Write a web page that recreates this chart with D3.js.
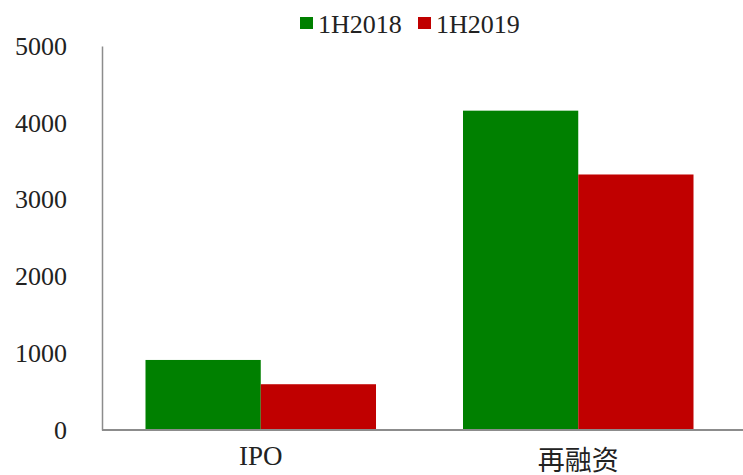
<!DOCTYPE html>
<html>
<head>
<meta charset="utf-8">
<script src="https://cdn.jsdelivr.net/npm/d3@7"></script>
<style>
  body { margin: 0; background: #fff; }
</style>
</head>
<body>
<svg id="chart" width="743" height="475"></svg>
<script>
// data
const categories = ["IPO", "再融资"];
const seriesNames = ["1H2018", "1H2019"];
const values2018 = [912, 4158];
const values2019 = [596, 3327];
const yTicks = [0, 1000, 2000, 3000, 4000, 5000];

const colors = ["#008000", "#c00000"];
const allValues = [values2018, values2019];
const fontFamily = "'Liberation Serif', 'Noto Sans CJK SC', serif";

const width = 743, height = 475;
const plotLeft = 102, plotRight = 737, plotTop = 46, plotBottom = 430;

const svg = d3.select("#chart");

let x = d3.scaleBand().domain(categories).range([plotLeft, plotRight])
    .paddingInner(0.274).paddingOuter(0.137);
let xs = d3.scaleBand().domain(seriesNames).range([0, x.bandwidth()]);
let y = d3.scaleLinear().domain([0, 5000]).range([plotBottom, plotTop]);

// bars
let groups = svg.selectAll(".cat")
    .data(categories)
    .enter().append("g")
    .attr("class", "cat")
    .attr("transform", d => "translate(" + x(d) + ",0)");

groups.selectAll("rect")
    .data((d, i) => seriesNames.map((s, j) => ({ s: s, v: allValues[j][i], j: j })))
    .enter().append("rect")
    .attr("x", d => xs(d.s))
    .attr("width", xs.bandwidth())
    .attr("y", d => y(d.v))
    .attr("height", d => plotBottom - y(d.v))
    .attr("fill", d => colors[d.j]);

// y axis
let yAxis = svg.append("g")
    .attr("transform", "translate(" + plotLeft + ",0)")
    .call(d3.axisLeft(y).tickValues(yTicks).tickSize(0).tickPadding(35).tickFormat(d3.format("d")));
yAxis.attr("font-family", fontFamily);
yAxis.select(".domain").attr("stroke", "#8c8c8c").attr("stroke-width", 1.5);
yAxis.selectAll("text").attr("font-size", 26).attr("fill", "#222");

// x axis
let xAxis = svg.append("g")
    .attr("transform", "translate(0," + plotBottom + ")")
    .call(d3.axisBottom(x).tickSize(0).tickPadding(16));
xAxis.attr("font-family", fontFamily);
xAxis.select(".domain").attr("d", "M" + plotLeft + ",0H" + width).attr("stroke", "#8c8c8c").attr("stroke-width", 2);
xAxis.selectAll("text").attr("font-size", 27).attr("fill", "#222")
    .attr("dy", d => d === "再融资" ? "0.88em" : "0.71em");

// legend
let legend = svg.selectAll(".legend")
    .data(seriesNames)
    .enter().append("g")
    .attr("class", "legend")
    .attr("transform", (d, i) => "translate(" + (300 + i * 118) + ",17)");

legend.append("rect")
    .attr("width", 13).attr("height", 12)
    .attr("fill", (d, i) => colors[i]);

legend.append("text")
    .attr("x", 18).attr("y", 16)
    .attr("font-family", fontFamily)
    .attr("font-size", 26)
    .attr("fill", "#222")
    .text(d => d);
</script>
</body>
</html>
